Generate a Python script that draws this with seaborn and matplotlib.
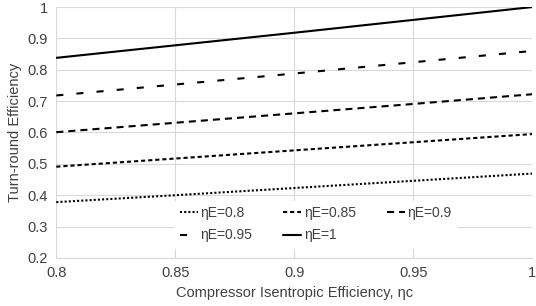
import pandas as pd
import matplotlib
matplotlib.use("Agg")
import matplotlib.pyplot as plt
import seaborn as sns

# --- values ---
eta_c = [0.8, 0.85, 0.9, 0.95, 1.0]
rt_080 = [0.378, 0.400, 0.423, 0.446, 0.469]
rt_085 = [0.491, 0.517, 0.543, 0.569, 0.595]
rt_090 = [0.601, 0.631, 0.661, 0.691, 0.722]
rt_095 = [0.718, 0.753, 0.788, 0.824, 0.860]
rt_100 = [0.838, 0.878, 0.918, 0.959, 1.0]
labels = ["ηE=0.8", "ηE=0.85", "ηE=0.9", "ηE=0.95", "ηE=1"]

series = [rt_080, rt_085, rt_090, rt_095, rt_100]
df = pd.concat(
    [pd.DataFrame({"eta_c": eta_c, "rt": s, "case": lab}) for s, lab in zip(series, labels)],
    ignore_index=True,
)

sns.set_style("white")
plt.rcParams["font.family"] = ["Liberation Sans", "DejaVu Sans"]

fig, ax = plt.subplots(figsize=(5.36, 3.06), dpi=100)
dash_map = {
    "ηE=0.8": (1, 1),
    "ηE=0.85": (2, 1.4),
    "ηE=0.9": (3.4, 2.4),
    "ηE=0.95": (3.4, 6.3),
    "ηE=1": "",
}
sns.lineplot(data=df, x="eta_c", y="rt", hue="case", style="case",
             palette=["black"] * 5, dashes=dash_map, linewidth=1.5, ax=ax)

ax.set_xlim(0.8, 1.0)
ax.set_ylim(0.2, 1.0)
ax.set_xticks([0.8, 0.85, 0.9, 0.95, 1.0])
ax.set_xticklabels(["0.8", "0.85", "0.9", "0.95", "1"])
ax.set_yticks([0.2, 0.3, 0.4, 0.5, 0.6, 0.7, 0.8, 0.9, 1.0])
ax.set_yticklabels(["0.2", "0.3", "0.4", "0.5", "0.6", "0.7", "0.8", "0.9", "1"])
ax.grid(True, color="#d9d9d9", linewidth=0.8)
for sp in ax.spines.values():
    sp.set_visible(False)
ax.spines["bottom"].set_visible(True)
ax.spines["bottom"].set_color("#d9d9d9")
ax.tick_params(axis="both", length=0, labelsize=10.5, colors="#404040", pad=6)
ax.set_xlabel("Compressor Isentropic Efficiency, ηc", fontsize=10.5, color="#404040")
ax.set_ylabel("Turn-round Efficiency", fontsize=10.5, color="#404040")

# legend filled row by row, like the original
handles, labs = ax.get_legend_handles_labels()
order = [0, 3, 1, 4, 2]
leg = ax.legend([handles[i] for i in order], [labs[i] for i in order],
                ncol=3, loc="lower center", bbox_to_anchor=(0.545, 0.012), frameon=True,
                fontsize=10, handlelength=1.3, handletextpad=0.2, columnspacing=2.2,
                labelspacing=0.6, borderpad=0.4)
leg.get_frame().set_facecolor("white")
leg.get_frame().set_edgecolor("white")
leg.get_frame().set_alpha(1)
for t in leg.get_texts():
    t.set_color("#404040")

fig.subplots_adjust(left=0.105, right=0.993, top=0.977, bottom=0.157)
fig.savefig("out.png", dpi=100)
